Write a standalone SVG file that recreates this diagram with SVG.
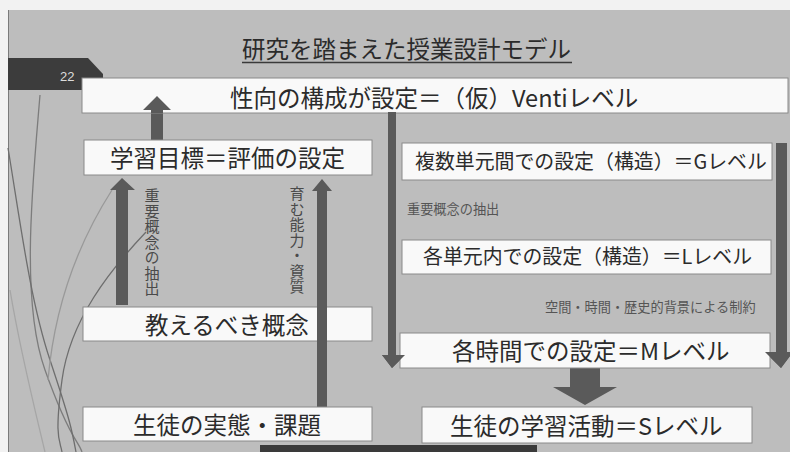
<svg xmlns="http://www.w3.org/2000/svg" width="790" height="452" viewBox="0 0 790 452">
<defs>
<style>
.box{fill:#f9f9f9;stroke:#8a8a8a;stroke-width:1}
.t{font-family:"Noto Sans CJK JP","Noto Sans",sans-serif;fill:#2b2b2b;font-size:23.5px}
.tn{font-size:19.9px}
.s{font-family:"Noto Sans CJK JP","Noto Sans",sans-serif;fill:#555;font-size:13.2px}
.v{font-family:"Noto Sans CJK JP","Noto Sans",sans-serif;fill:#4a4a4a;font-size:15px;writing-mode:tb;letter-spacing:0.5px}
.arr{fill:#5a5a5a}
.deco{fill:none;stroke-width:1.3}
</style>
</defs>
<rect x="0" y="0" width="790" height="452" fill="#f2f2f2"/>
<rect x="8" y="10" width="782" height="442" fill="#bdbdbd"/>
<line x1="8.5" y1="10" x2="8.5" y2="452" stroke="#7a7a7a" stroke-width="1"/>
<g id="decoration">
<path class="deco" stroke="#7c7c7c" d="M40,95 C33,180 20,300 45,370 S78,440 82,452"/>
<path class="deco" stroke="#6e6e6e" d="M8,148 C20,220 30,300 50,360 S72,430 76,452"/>
<path class="deco" stroke="#999" d="M112,190 C80,240 55,300 48,380"/>
<path class="deco" stroke="#6e6e6e" d="M146,232 C110,270 70,320 62,380 S60,440 62,452"/>
<path class="deco" stroke="#a6a6a6" d="M10,290 C20,350 35,410 45,452"/>
</g>
<g id="title">
<text class="t" x="242" y="58">研究を踏まえた授業設計モデル</text>
<line x1="242" y1="62.5" x2="572" y2="62.5" stroke="#3a3a3a" stroke-width="1.3"/>
</g>
<g id="pagetab">
<polygon points="8,58 88,58 103,74 103,90 8,90" fill="#3c3c3c"/>
<text x="60" y="81" font-family="Liberation Sans,sans-serif" font-size="13" fill="#dcdcdc">22</text>
</g>
<g id="connectors">
<polygon class="arr" points="151,140 151,110 143,110 157,96 171,110 163,110 163,140"/>
<polygon class="arr" points="116,305 116,190 110,190 122,178 135,190 128,190 128,305"/>
<polygon class="arr" points="317,407 317,191 312,191 322,179 332,191 327,191 327,407"/>
<polygon class="arr" points="388,113 396,113 396,355 405,355 392,368 382,355 388,355"/>
<polygon class="arr" points="776,143 787,143 787,352 793,352 781,368 765,352 776,352"/>
<polygon class="arr" points="570,368 600,368 600,387 617,387 585,405 553,387 570,387"/>
</g>
<g id="node-venti">
<rect class="box" x="82" y="78" width="706" height="35"/>
<text class="t" x="230" y="107">性向の構成が設定＝（仮）Ventiレベル</text>
</g>
<g id="arrowhead-over-venti">
<polygon class="arr" points="151,113 151,110 143,110 157,96 171,110 163,110 163,113"/>
<polygon class="arr" points="388,112 396,112 396,114 388,114"/>
</g>
<g id="node-goal">
<rect class="box" x="84" y="140" width="288" height="35"/>
<text class="t" x="110" y="167">学習目標＝評価の設定</text>
</g>
<g id="node-concept">
<rect class="box" x="83" y="307" width="289" height="34"/>
<text class="t" x="145" y="334">教えるべき概念</text>
</g>
<g id="node-students">
<rect class="box" x="83" y="407" width="289" height="34"/>
<text class="t" x="133" y="434">生徒の実態・課題</text>
</g>
<g id="shaft-over-concept">
<rect class="arr" x="317" y="306" width="10" height="36"/>
</g>
<g id="node-G">
<rect class="box" x="402" y="143" width="370" height="37"/>
<text class="t tn" x="415" y="169">複数単元間での設定（構造）＝Gレベル</text>
</g>
<g id="node-L">
<rect class="box" x="402" y="240" width="369" height="34"/>
<text class="t tn" x="423" y="264">各単元内での設定（構造）＝Lレベル</text>
</g>
<g id="node-M">
<rect class="box" x="400" y="333" width="370" height="35"/>
<text class="t" x="452" y="360">各時間での設定＝Mレベル</text>
</g>
<g id="arrowtips-over-M">
<polygon class="arr" points="382,355 405,355 392,368"/>
<polygon class="arr" points="765,352 793,352 781,368"/>
</g>
<g id="node-S">
<rect class="box" x="422" y="407" width="330" height="36"/>
<text class="t" x="450" y="435">生徒の学習活動＝Sレベル</text>
</g>
<g id="labels">
<text class="v" x="152" y="188">重要概念の抽出</text>
<text class="v" x="297" y="186">育む能力・資質</text>
<text class="s" x="407" y="214">重要概念の抽出</text>
<text class="s" x="545" y="312">空間・時間・歴史的背景による制約</text>
</g>
<g id="bottombar">
<rect x="260" y="445" width="277" height="7" fill="#3a3a3a"/>
</g>
</svg>
